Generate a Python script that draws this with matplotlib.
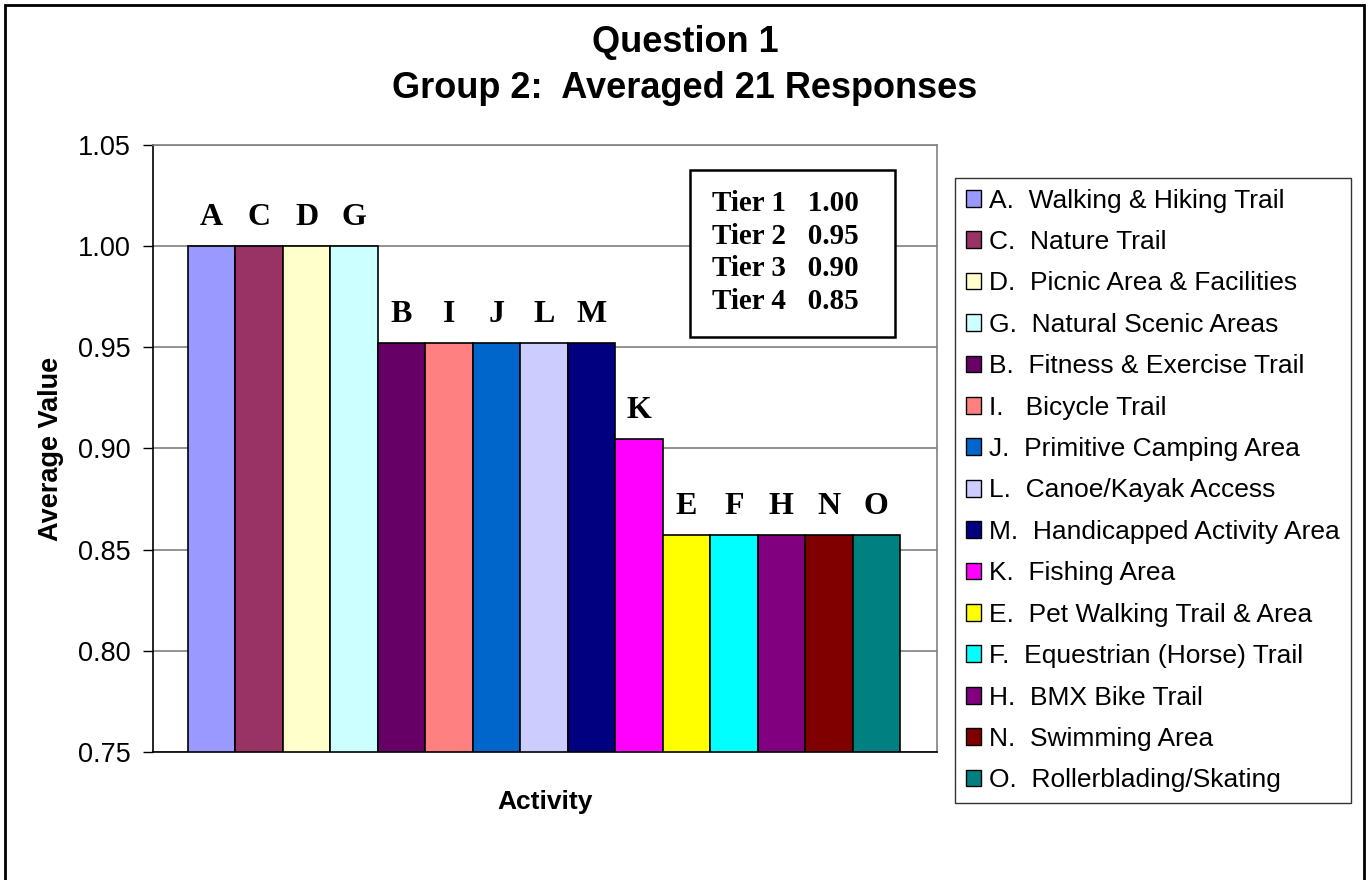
import matplotlib
matplotlib.use("Agg")
import matplotlib.pyplot as plt
from matplotlib.patches import Patch, Rectangle

# Activities in plotted order, grouped by tier
letters = ["A", "C", "D", "G", "B", "I", "J", "L", "M", "K", "E", "F", "H", "N", "O"]
names = ["A.  Walking & Hiking Trail", "C.  Nature Trail", "D.  Picnic Area & Facilities",
         "G.  Natural Scenic Areas", "B.  Fitness & Exercise Trail", "I.   Bicycle Trail",
         "J.  Primitive Camping Area", "L.  Canoe/Kayak Access", "M.  Handicapped Activity Area",
         "K.  Fishing Area", "E.  Pet Walking Trail & Area", "F.  Equestrian (Horse) Trail",
         "H.  BMX Bike Trail", "N.  Swimming Area", "O.  Rollerblading/Skating"]
# averages of 21 responses
values = [1.0, 1.0, 1.0, 1.0,
          20/21, 20/21, 20/21, 20/21, 20/21,
          19/21,
          18/21, 18/21, 18/21, 18/21, 18/21]
colors = ["#9999FF", "#993366", "#FFFFCC", "#CCFFFF", "#660066", "#FF8080", "#0066CC",
          "#CCCCFF", "#000080", "#FF00FF", "#FFFF00", "#00FFFF", "#800080", "#800000", "#008080"]
tier_text = "Tier 1   1.00\nTier 2   0.95\nTier 3   0.90\nTier 4   0.85"
yticks = [0.75, 0.80, 0.85, 0.90, 0.95, 1.00, 1.05]

sans = "Liberation Sans"
serif = "Liberation Serif"

fig = plt.figure(figsize=(13.7, 8.8), dpi=100)
ax = fig.add_axes([153/1370, 1 - 752/880, (937-153)/1370, (752-145)/880])

x = list(range(len(values)))
ax.bar(x, [v - 0.75 for v in values], bottom=0.75, width=1.0, align="edge",
       color=colors, edgecolor="black", linewidth=1.2, zorder=3)

for xi, v, lab in zip(x, values, letters):
    ax.annotate(lab, (xi + 0.5, v), xytext=(0, 10), textcoords="offset points",
                ha="center", va="bottom", fontsize=23, fontweight="bold", family=serif)

ax.set_ylim(0.75, 1.05)
ax.set_xlim(-35/47.5, 15 + 37/47.5)
ax.set_yticks(yticks)
ax.set_yticklabels(["%.2f" % t for t in yticks], family=sans, fontsize=19.5)
ax.set_xticks([])
ax.tick_params(axis="y", direction="out", length=7, width=1, pad=9)
ax.yaxis.grid(True, color="#808080", linewidth=1.2, zorder=0)

for side in ["top", "right"]:
    ax.spines[side].set_color("#808080")
    ax.spines[side].set_linewidth(1.2)
for side in ["left", "bottom"]:
    ax.spines[side].set_color("black")
    ax.spines[side].set_linewidth(1.2)

ax.set_ylabel("Average Value", family=sans, fontsize=19.5, fontweight="bold", labelpad=10)
ax.set_xlabel("Activity", family=sans, fontsize=19, fontweight="bold", labelpad=27)

# tier legend box
ax.add_patch(Rectangle((0.685, 0.684), 0.946 - 0.685, 0.959 - 0.684, transform=ax.transAxes,
                       facecolor="white", edgecolor="black", linewidth=1.8, zorder=5))
ax.text(0.807, 0.823, tier_text, transform=ax.transAxes, ha="center", va="center",
        family=serif, fontsize=21, fontweight="bold", linespacing=1.27, zorder=6)

fig.text(0.5, 1 - 42/880, "Question 1", ha="center", va="center",
         family=sans, fontsize=26, fontweight="bold")
fig.text(0.5, 1 - 88/880, "Group 2:  Averaged 21 Responses", ha="center", va="center",
         family=sans, fontsize=26, fontweight="bold")

handles = [Patch(facecolor=c, edgecolor="black", linewidth=1) for c in colors]
leg = fig.legend(handles, names, loc="upper left", bbox_to_anchor=(955/1370, 1 - 178/880),
                 prop={"family": sans, "size": 19}, frameon=True, fancybox=False,
                 handlelength=0.6, handleheight=0.6, handletextpad=0.3,
                 labelspacing=0.66, borderpad=0.4, borderaxespad=0)
leg.get_frame().set_edgecolor("black")
leg.get_frame().set_linewidth(1)

# outer chart border
fig.patches.append(Rectangle((5/1370, -0.05), (1364-5)/1370, 1.05 - 5/880,
                             transform=fig.transFigure, fill=False,
                             edgecolor="black", linewidth=2))

fig.savefig("out.png", dpi=100)
